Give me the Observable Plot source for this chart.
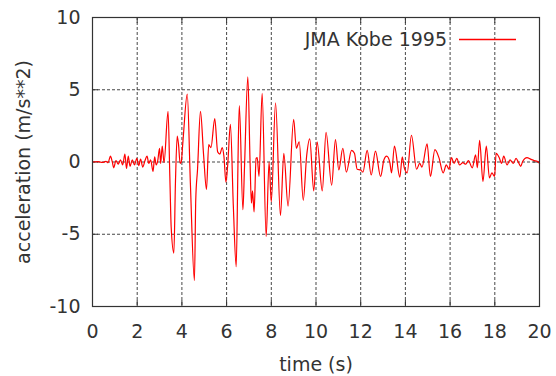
<!DOCTYPE html>
<html>
<head>
<meta charset="utf-8">
<script src="https://cdn.jsdelivr.net/npm/d3@7"></script>
<script src="https://cdn.jsdelivr.net/npm/@observablehq/plot@0.6"></script>
<style>
  html, body { margin: 0; padding: 0; background: #fff; }
  #chart { width: 556px; height: 376px; }
</style>
</head>
<body>
<div id="chart"></div>
<script>
// ---- data ----
const seriesName = "JMA Kobe 1995";
const xLabel = "time (s)";
const yLabel = "acceleration (m/s**2)";
const xTicks = [0, 2, 4, 6, 8, 10, 12, 14, 16, 18, 20];
const yTicks = [-10, -5, 0, 5, 10];

const time = [
  0.00, 0.25, 0.45, 0.60, 0.70, 0.80, 0.88, 0.95, 1.05, 1.15, 1.25, 1.35, 1.45, 1.52, 1.60, 1.68, 1.78, 1.88, 1.98, 2.07,
  2.15, 2.25, 2.35, 2.44, 2.52, 2.60, 2.71, 2.78, 2.85, 2.92, 3.00, 3.05, 3.12, 3.20, 3.38, 3.46, 3.52, 3.64, 3.71, 3.79,
  3.85, 3.92, 3.97, 4.05, 4.24, 4.38, 4.56, 4.62, 4.70, 4.83, 4.97, 5.10, 5.20, 5.30, 5.47, 5.60, 5.70, 5.80, 5.88, 5.97,
  6.05, 6.17, 6.30, 6.43, 6.50, 6.52, 6.57, 6.73, 6.80, 6.95, 7.05, 7.11, 7.16, 7.23, 7.32, 7.37, 7.45, 7.59, 7.77, 7.90,
  8.00, 8.19, 8.41, 8.56, 8.75, 9.00, 9.12, 9.25, 9.43, 9.58, 9.72, 9.90, 10.05, 10.28, 10.45, 10.70, 10.87, 11.02, 11.20, 11.36,
  11.59, 11.72, 11.84, 12.00, 12.10, 12.29, 12.47, 12.66, 12.89, 13.04, 13.16, 13.30, 13.38, 13.51, 13.75, 13.86, 13.95, 14.08, 14.27, 14.50,
  14.64, 14.74, 14.97, 15.12, 15.32, 15.50, 15.69, 15.83, 15.95, 16.06, 16.18, 16.30, 16.42, 16.57, 16.70, 16.82, 16.99, 17.14, 17.22, 17.32,
  17.47, 17.62, 17.76, 17.87, 17.99, 18.06, 18.20, 18.30, 18.40, 18.55, 18.68, 18.83, 18.95, 19.05, 19.16, 19.25, 19.44, 19.60, 19.76, 19.90,
  20.00
];
const accel = [
  0.00, 0.02, -0.03, 0.05, -0.05, 0.40, 0.05, -0.40, 0.10, -0.15, 0.15, -0.20, 0.55, -0.45, 0.40, -0.30, 0.15, -0.20, 0.25, -0.25,
  0.20, -0.35, 0.10, 0.40, -0.10, 0.15, -0.65, 0.35, -0.20, 0.10, 0.95, -0.10, 1.10, -0.05, 3.50, -1.00, -4.50, -6.30, -1.50, 1.80,
  1.20, -0.10, 0.00, 1.50, 4.70, -1.50, -8.20, -2.60, -0.50, 3.50, 0.50, -1.90, 1.20, 1.00, 3.00, 0.70, 0.55, 1.00, 0.40, -1.40,
  -0.20, 2.60, -3.00, -7.25, -1.00, 1.05, 3.90, -3.30, -0.40, 5.90, 0.00, -2.85, -2.00, -3.45, 0.25, 0.30, -1.00, 4.75, -5.15, 0.00,
  -2.75, 4.10, -3.70, 0.60, -3.05, 2.95, 0.95, 1.40, -2.65, 0.40, 1.60, -2.00, 1.40, -2.00, 2.05, -1.60, 1.55, -0.55, 0.95, -0.70,
  0.80, 0.60, -0.50, -0.55, -0.70, 0.80, -0.90, 0.75, -1.00, 0.15, 0.40, 0.00, -0.75, 1.10, -1.05, 0.35, -0.40, -0.75, 1.85, -0.50,
  -0.10, -0.35, 1.25, -1.00, 0.85, 0.30, -0.75, -0.20, -0.50, 0.30, -0.10, 0.25, -0.20, -0.05, -0.15, 0.10, -0.40, 0.50, -0.40, 1.50,
  -1.35, 1.10, -1.10, -0.75, -1.00, 0.60, 0.30, -0.10, 0.40, -0.20, 0.15, -0.10, 0.25, 0.00, -0.30, 0.05, 0.30, 0.20, 0.10, 0.05,
  -0.10
];

const records = time.map((t, i) => ({time: t, accel: accel[i]}));

const ink = "#333333";
const lineColor = "#ff0000";
const font = "DejaVu Sans";

// legend drawn relative to the plot frame
function legend(index, scales, values, dimensions) {
  const g = d3.create("svg:g");
  const right = dimensions.width - dimensions.marginRight;
  const top = dimensions.marginTop;
  const textRight = right - 92;
  const cy = top + 22.5;
  g.append("text")
    .attr("x", textRight).attr("y", cy).attr("dy", "0.36em")
    .attr("text-anchor", "end")
    .attr("fill", ink)
    .attr("font-family", font).attr("font-size", 19)
    .text(seriesName);
  g.append("path")
    .attr("d", `M${textRight + 12},${cy}H${textRight + 69}`)
    .style("fill", "none")
    .style("stroke", lineColor)
    .style("stroke-width", "1.3px");
  return g.node();
}

const plain = d => String(d);

const chart = Plot.plot({
  width: 556,
  height: 376,
  marginLeft: 92,
  marginRight: 17,
  marginTop: 17,
  marginBottom: 70,
  style: {fontFamily: font, fontSize: "19px", color: ink, background: "#fff"},
  x: {domain: [0, 20]},
  y: {domain: [-10, 10]},
  marks: [
    Plot.gridX(xTicks.slice(1, -1), {stroke: ink, strokeOpacity: 0.9, strokeDasharray: "3,2"}),
    Plot.gridY(yTicks.slice(1, -1), {stroke: ink, strokeOpacity: 0.9, strokeDasharray: "3,2"}),
    Plot.ruleX(xTicks, {stroke: ink, insetTop: 283}),
    Plot.ruleX(xTicks, {stroke: ink, insetBottom: 283}),
    Plot.ruleY(yTicks, {stroke: ink, insetRight: 441}),
    Plot.ruleY(yTicks, {stroke: ink, insetLeft: 441}),
    Plot.line(records, {x: "time", y: "accel", stroke: lineColor, strokeWidth: 1.2, curve: "monotone-x"}),
    Plot.frame({stroke: ink, strokeWidth: 1.2}),
    Plot.axisX(xTicks, {
      tickSize: 0, tickPadding: 18, fontSize: 19, fill: ink, tickFormat: plain,
      label: xLabel, labelAnchor: "center", labelArrow: "none", labelOffset: 64
    }),
    Plot.axisY(yTicks, {
      tickSize: 0, tickPadding: 12, fontSize: 19, fill: ink, tickFormat: plain,
      label: yLabel, labelAnchor: "center", labelArrow: "none", labelOffset: 76
    }),
    legend
  ]
});
document.getElementById("chart").append(chart);
</script>
</body>
</html>
